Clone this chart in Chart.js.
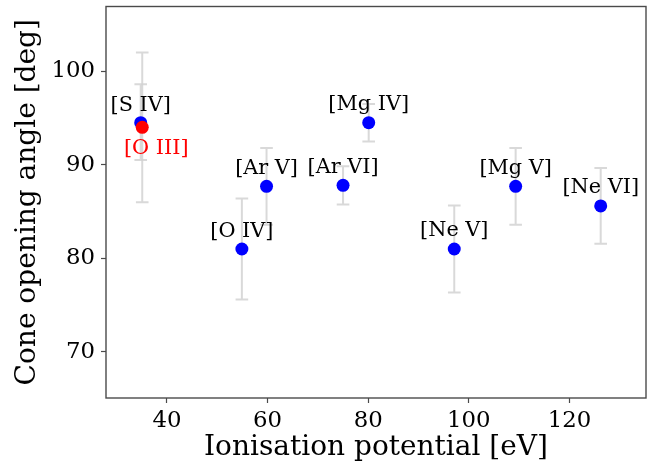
<!DOCTYPE html>
<html>
<head>
<meta charset="utf-8">
<script src="https://cdn.jsdelivr.net/npm/chart.js@4"></script>
<style>
html,body{margin:0;padding:0;background:#fff;}
#wrap{width:656px;height:468px;}
</style>
</head>
<body>
<div id="wrap"><canvas id="c" width="656" height="468"></canvas></div>
<script>
// ---- data ----
const lineNames = ['[S IV]', '[O III]', '[O IV]', '[Ar V]', '[Ar VI]', '[Mg IV]', '[Ne V]', '[Mg V]', '[Ne VI]'];
const ionisationPotential = [34.8, 35.1, 54.9, 59.8, 75.0, 80.1, 97.1, 109.3, 126.2];
const coneAngle = [94.5, 94.0, 81.0, 87.7, 87.8, 94.5, 81.0, 87.7, 85.6];
const errLow = [4.0, 8.0, 5.4, 4.1, 2.05, 2.0, 4.65, 4.1, 4.05];
const errHigh = [4.1, 8.0, 5.4, 4.1, 2.05, 2.0, 4.65, 4.1, 4.05];
const xTicks = [40, 60, 80, 100, 120];
const yTicks = [70, 80, 90, 100];
const xRange = [27.9, 135.2];
const yRange = [65.07, 106.92];

// ---- styling ----
const BLUE = '#0000ff', RED = '#ff0000';
const SERIF = "'DejaVu Serif', serif";
const highlightIndex = 1; // [O III]
const labelOffsets = [[0, -17], [14, 21], [0, -17], [0, -18], [0, -18], [0, -18], [0, -18], [0, -18], [0, -18]];

const points = ionisationPotential.map((x, i) => ({x: x, y: coneAngle[i]}));

const errorBarPlugin = {
  id: 'errorBars',
  beforeDatasetsDraw(chart) {
    const {ctx, scales: {x, y}} = chart;
    ctx.save();
    ctx.strokeStyle = 'rgba(210,210,210,0.85)';
    ctx.lineWidth = 2;
    const cap = 6.3;
    points.forEach((p, i) => {
      const px = x.getPixelForValue(p.x);
      const top = y.getPixelForValue(p.y + errHigh[i]);
      const bot = y.getPixelForValue(p.y - errLow[i]);
      ctx.beginPath();
      ctx.moveTo(px, top); ctx.lineTo(px, bot);
      ctx.moveTo(px - cap, top); ctx.lineTo(px + cap, top);
      ctx.moveTo(px - cap, bot); ctx.lineTo(px + cap, bot);
      ctx.stroke();
    });
    ctx.restore();
  },
  afterDatasetsDraw(chart) {
    const {ctx, scales: {x, y}, chartArea: a} = chart;
    ctx.save();
    ctx.font = '20.8px ' + SERIF;
    ctx.textAlign = 'center';
    ctx.textBaseline = 'middle';
    points.forEach((p, i) => {
      const px = x.getPixelForValue(p.x) + labelOffsets[i][0];
      const py = y.getPixelForValue(p.y) + labelOffsets[i][1];
      ctx.fillStyle = i === highlightIndex ? RED : '#000';
      ctx.fillText(lineNames[i], px, py);
    });
    // frame
    ctx.strokeStyle = '#4a4a4a';
    ctx.lineWidth = 1.4;
    ctx.strokeRect(a.left, a.top, a.right - a.left, a.bottom - a.top);
    ctx.restore();
  }
};

new Chart(document.getElementById('c'), {
  type: 'scatter',
  data: {
    datasets: [{
      data: points,
      pointRadius: 6.5,
      pointHoverRadius: 6.5,
      borderWidth: 0,
      pointBackgroundColor: ctx => ctx.dataIndex === highlightIndex ? RED : BLUE,
      pointBorderColor: ctx => ctx.dataIndex === highlightIndex ? RED : BLUE
    }]
  },
  options: {
    responsive: false,
    animation: false,
    events: [],
    layout: {padding: {left: 0, right: 10, top: 5, bottom: 0}},
    plugins: {legend: {display: false}, tooltip: {enabled: false}},
    scales: {
      x: {
        type: 'linear',
        min: xRange[0], max: xRange[1],
        afterBuildTicks: s => { s.ticks = xTicks.map(v => ({value: v})); },
        afterFit: s => { s.height = 70; s.paddingLeft = 0; s.paddingRight = 0; },
        grid: {display: true, drawOnChartArea: false, drawTicks: true, tickLength: 5, tickColor: '#4a4a4a', tickWidth: 1.2},
        border: {display: false},
        ticks: {color: '#000', font: {family: SERIF, size: 22.8}, padding: 4, maxRotation: 0, autoSkip: false},
        title: {display: true, text: 'Ionisation potential [eV]', color: '#000', font: {family: SERIF, size: 28, lineHeight: 1.2}, padding: {top: 0, bottom: 3}}
      },
      y: {
        type: 'linear',
        min: yRange[0], max: yRange[1],
        afterBuildTicks: s => { s.ticks = yTicks.map(v => ({value: v})); },
        afterFit: s => { s.width = 106; s.paddingTop = 0; s.paddingBottom = 0; },
        grid: {display: true, drawOnChartArea: false, drawTicks: true, tickLength: 5, tickColor: '#4a4a4a', tickWidth: 1.2},
        border: {display: false},
        ticks: {color: '#000', font: {family: SERIF, size: 22.8}, padding: 6, autoSkip: false},
        title: {display: true, text: 'Cone opening angle [deg]', color: '#000', font: {family: SERIF, size: 28, lineHeight: 1.2}, padding: {top: 11, bottom: 0}}
      }
    }
  },
  plugins: [errorBarPlugin]
});
</script>
</body>
</html>
